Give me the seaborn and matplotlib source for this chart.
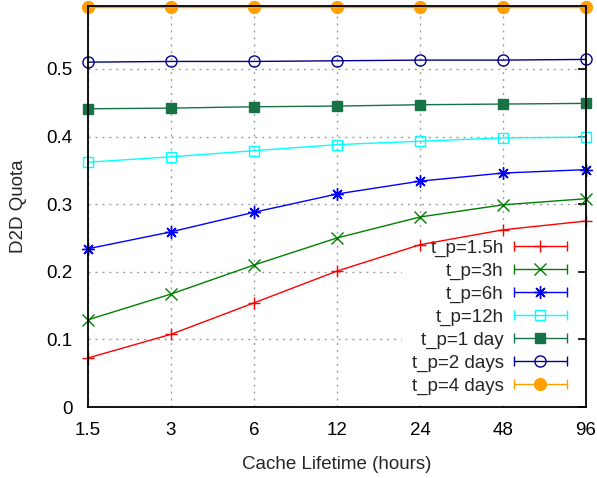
import numpy as np
import pandas as pd
import matplotlib
matplotlib.use("Agg")
import matplotlib.pyplot as plt
import seaborn as sns
from matplotlib.lines import Line2D
from matplotlib.legend_handler import HandlerBase

lifetimes = [1.5, 3, 6, 12, 24, 48, 96]
tick_labels = ["1.5", "3", "6", "12", "24", "48", "96"]
series_names = ["t_p=1.5h", "t_p=3h", "t_p=6h", "t_p=12h", "t_p=1 day", "t_p=2 days", "t_p=4 days"]
q_1_5h = [0.0725, 0.1075, 0.154, 0.201, 0.240, 0.262, 0.275]
q_3h = [0.129, 0.167, 0.210, 0.250, 0.281, 0.299, 0.308]
q_6h = [0.234, 0.259, 0.288, 0.315, 0.334, 0.346, 0.351]
q_12h = [0.362, 0.370, 0.379, 0.388, 0.393, 0.398, 0.399]
q_1d = [0.441, 0.442, 0.444, 0.445, 0.447, 0.448, 0.449]
q_2d = [0.510, 0.511, 0.511, 0.512, 0.513, 0.513, 0.514]
q_4d = [0.592, 0.592, 0.592, 0.592, 0.592, 0.592, 0.592]
all_values = [q_1_5h, q_3h, q_6h, q_12h, q_1d, q_2d, q_4d]

colors = ["#ff0000", "#008000", "#0000ff", "#00ffff", "#177245", "#00008b", "#ffa000"]
markers = ["+", "x", (8, 2, 0), "s", "s", "o", "o"]
filled = [True, True, True, False, True, False, True]
msizes = [9, 8, 9, 7.5, 7.5, 8, 8.5]

df = pd.concat([pd.DataFrame({"lifetime": lifetimes, "quota": v, "series": n})
                for n, v in zip(series_names, all_values)], ignore_index=True)

sns.set_style("white")
plt.rcParams["font.family"] = ["Liberation Sans", "DejaVu Sans"]
FS = 13.5
plt.rcParams["font.size"] = FS

fig = plt.figure(figsize=(5.97, 4.78), dpi=100)
ax = fig.add_axes([88 / 597, 1 - 407 / 478, (586 - 88) / 597, (407 - 6) / 478])

for i, name in enumerate(series_names):
    sub = df[df["series"] == name]
    sns.lineplot(data=sub, x="lifetime", y="quota", ax=ax, color=colors[i],
                 marker=markers[i], markersize=msizes[i],
                 markerfacecolor=colors[i] if filled[i] else "none",
                 markeredgecolor=colors[i], markeredgewidth=1.0,
                 linewidth=1.0, legend=False, clip_on=False, zorder=3)

ax.set_xscale("log", base=2)
ax.set_xlim(1.5, 96)
ax.set_ylim(0, 0.593)
ax.set_xticks(lifetimes)
ax.set_xticklabels(tick_labels)
ax.xaxis.set_minor_locator(matplotlib.ticker.NullLocator())
ax.set_yticks([0, 0.1, 0.2, 0.3, 0.4, 0.5])
ax.set_yticklabels(["0", "0.1", "0.2", "0.3", "0.4", "0.5"])
ax.grid(True, color="#a0a0a0", linestyle=(0, (1.5, 3.5)), linewidth=1.0)
ax.set_axisbelow(True)
ax.tick_params(direction="in", length=6, width=1.2, top=True, right=True,
               labelsize=FS, colors="black", pad=11)
for s in ax.spines.values():
    s.set_color("black")
    s.set_linewidth(1.3)
    s.set_zorder(4)
ax.set_xlabel("Cache Lifetime (hours)", fontsize=FS, labelpad=12)
ax.set_ylabel("D2D Quota", fontsize=FS, labelpad=14)


class CapHandler(HandlerBase):
    def __init__(self, color, marker, ms, fill):
        super().__init__()
        self.color, self.marker, self.ms, self.fill = color, marker, ms, fill

    def create_artists(self, legend, orig_handle, xdescent, ydescent, width, height, fontsize, trans):
        y = height / 2 - ydescent
        x0, x1 = -xdescent, -xdescent + width
        line = Line2D([x0, x1], [y, y], color=self.color, lw=1.0, transform=trans)
        caps = Line2D([x0, x1], [y, y], color=self.color, marker="|", markersize=7,
                      markeredgewidth=1.0, linestyle="none", transform=trans)
        mk = Line2D([(x0 + x1) / 2], [y], color=self.color, marker=self.marker,
                    markersize=self.ms, markeredgewidth=1.0,
                    markerfacecolor=self.color if self.fill else "none",
                    markeredgecolor=self.color, linestyle="none", transform=trans)
        return [line, caps, mk]


handles = [Line2D([], []) for _ in series_names]
hmap = {h: CapHandler(colors[i], markers[i], msizes[i], filled[i]) for i, h in enumerate(handles)}
leg = ax.legend(handles, series_names, loc="lower right", markerfirst=False,
                handler_map=hmap, handlelength=2.8, labelspacing=0.3,
                handletextpad=0.55, borderaxespad=0.0, frameon=True,
                fancybox=False, fontsize=FS, borderpad=0.5,
                bbox_to_anchor=(1 - 10 / 498, 3 / 401))
leg.get_frame().set_facecolor("white")
leg.get_frame().set_edgecolor("white")
leg.get_frame().set_alpha(1.0)
leg.set_zorder(2.5)

fig.savefig("out.png", dpi=100)
